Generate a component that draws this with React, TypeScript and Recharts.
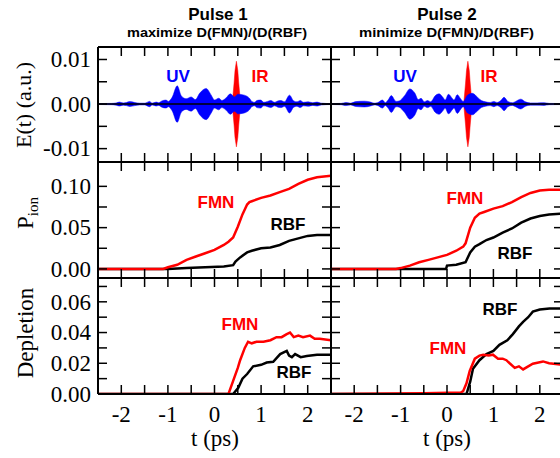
import React from "react";
import { ComposedChart, Line, Area, XAxis, YAxis, ReferenceLine } from "recharts";

const SERIF = '"Liberation Serif", "Times New Roman", serif';
const SANS = '"Liberation Sans", Arial, sans-serif';
const RED = "#ff0000";
const BLUE = "#0000ff";
const TICK = 9;

// axis ticks
const xTicks = [-2, -1.5, -1, -0.5, 0, 0.5, 1, 1.5, 2];
const fieldTicks = [-0.01, -0.005, 0, 0.005, 0.01];
const fieldLabels = [-0.01, 0, 0.01];
const pionTicks = [0, 0.025, 0.05, 0.075, 0.1];
const pionLabels = [0, 0.05, 0.1];
const deplTicks = [0, 0.01, 0.02, 0.03, 0.04, 0.05, 0.06, 0.07];
const deplLabels = [0, 0.02, 0.04, 0.06];

// Pulse 1: UV envelope and IR spike
const uvTime1 = [-2.5, -2.21, -2.11, -2.04, -1.96, -1.89, -1.82, -1.71, -1.61, -1.5, -1.39, -1.34, -1.25, -1.2, -1.13, -1.04, -0.99, -0.91, -0.8, -0.71, -0.61, -0.5, -0.41, -0.32, -0.18, -0.07, 0.0, 0.09, 0.16, 0.25, 0.34, 0.43, 0.5, 0.64, 0.75, 0.8, 0.86, 0.91, 0.99, 1.06, 1.14, 1.21, 1.29, 1.36, 1.43, 1.5, 1.61, 1.7, 1.77, 1.84, 1.91, 2.01, 2.11, 2.2, 2.29, 2.5];
const uvAmp1 = [1e-4, 1.5e-4, 2.5e-4, 4.5e-4, 2.5e-4, 3.5e-4, 5.5e-4, 3.5e-4, 2e-4, 2e-4, 6e-4, 2e-4, 4.5e-4, 3e-4, 7e-4, 9e-4, 6e-4, 1.5e-3, 4.1e-3, 1.8e-3, 1.2e-3, 1.6e-3, 1.0e-3, 2.4e-3, 3.5e-3, 2.0e-3, 9e-4, 1.3e-3, 8e-4, 1.4e-3, 2.3e-3, 1.6e-3, 2.2e-3, 2.0e-3, 1.3e-3, 6e-4, 4e-4, 8e-4, 9e-4, 4e-4, 6e-4, 8e-4, 4e-4, 7e-4, 8e-4, 5e-4, 2.0e-3, 7e-4, 5e-4, 8e-4, 4e-4, 5e-4, 3e-4, 4.5e-4, 2e-4, 1e-4];
const irTime1 = [0.38, 0.42, 0.44, 0.47, 0.5, 0.52, 0.56];
const irAmp1 = [0, 0.0047, 0.0075, 0.0096, 0.0075, 0.0047, 0];

// Pulse 2: UV envelope and IR spike
const uvTime2 = [-2.5, -2.28, -2.18, -2.08, -1.96, -1.78, -1.65, -1.57, -1.5, -1.39, -1.33, -1.27, -1.2, -1.1, -1.03, -0.92, -0.8, -0.69, -0.62, -0.56, -0.49, -0.42, -0.35, -0.26, -0.17, -0.08, -0.04, 0.03, 0.12, 0.15, 0.22, 0.3, 0.35, 0.44, 0.55, 0.65, 0.74, 0.83, 0.93, 1.01, 1.08, 1.16, 1.23, 1.31, 1.41, 1.48, 1.59, 1.69, 1.8, 1.94, 2.09, 2.2, 2.5];
const uvAmp2 = [1e-4, 1.5e-4, 3.5e-4, 2e-4, 5.5e-4, 6.5e-4, 4.5e-4, 2e-4, 3e-4, 9e-4, 3e-4, 9e-4, 1.9e-3, 6e-4, 7e-4, 1.8e-3, 3.4e-3, 2.4e-3, 1.0e-3, 1.3e-3, 5e-4, 8e-4, 5e-4, 1.8e-3, 2.3e-3, 1.4e-3, 9e-4, 2.2e-3, 1.2e-3, 9e-4, 2.1e-3, 1.1e-3, 6e-4, 2.0e-3, 2.4e-3, 1.6e-3, 8e-4, 5e-4, 3.5e-4, 6e-4, 3.5e-4, 8e-4, 1.5e-3, 6e-4, 3e-4, 6e-4, 1.1e-3, 5e-4, 2.5e-4, 2.5e-4, 3e-4, 1.5e-4, 1e-4];
const irTime2 = [0.36, 0.4, 0.42, 0.45, 0.48, 0.5, 0.54];
const irAmp2 = [0, 0.0047, 0.0075, 0.0096, 0.0075, 0.0047, 0];

// ionization probability
const pionFmnTime1 = [-2.5, -1.1, -1.0, -0.8, -0.6, -0.4, -0.2, 0, 0.2, 0.3, 0.4, 0.5, 0.6, 0.7, 0.75, 0.8, 1.0, 1.2, 1.4, 1.6, 1.8, 2.0, 2.2, 2.5];
const pionFmn1 = [0, 0, 0.002, 0.005, 0.011, 0.015, 0.019, 0.023, 0.029, 0.033, 0.038, 0.051, 0.066, 0.078, 0.081, 0.082, 0.086, 0.089, 0.093, 0.097, 0.103, 0.108, 0.111, 0.113];
const pionRbfTime1 = [-2.5, -1.0, -0.6, -0.2, 0.2, 0.4, 0.45, 0.55, 0.7, 0.8, 1.0, 1.2, 1.4, 1.6, 1.8, 2.0, 2.2, 2.5];
const pionRbf1 = [0, 0, 0.001, 0.002, 0.003, 0.0045, 0.009, 0.014, 0.02, 0.022, 0.025, 0.026, 0.029, 0.034, 0.037, 0.04, 0.041, 0.041];
const pionFmnTime2 = [-2.5, -1.1, -1.0, -0.8, -0.6, -0.4, -0.2, 0, 0.2, 0.35, 0.4, 0.5, 0.6, 0.7, 0.8, 1.0, 1.2, 1.4, 1.6, 1.8, 2.0, 2.2, 2.5];
const pionFmn2 = [0, 0, 0.001, 0.004, 0.008, 0.011, 0.014, 0.017, 0.022, 0.027, 0.031, 0.05, 0.062, 0.067, 0.069, 0.073, 0.076, 0.081, 0.087, 0.092, 0.095, 0.096, 0.096];
const pionRbfTime2 = [-2.5, -0.02, 0, 0.2, 0.4, 0.5, 0.6, 0.7, 0.85, 1.0, 1.2, 1.4, 1.6, 1.8, 2.0, 2.2, 2.5];
const pionRbf2 = [0, 0, 0.004, 0.005, 0.008, 0.02, 0.027, 0.03, 0.035, 0.038, 0.044, 0.049, 0.056, 0.061, 0.064, 0.066, 0.067];

// depletion
const deplFmnTime1 = [-2.5, 0.3, 0.4, 0.5, 0.55, 0.65, 0.72, 0.8, 0.9, 1.05, 1.2, 1.33, 1.44, 1.55, 1.62, 1.7, 1.8, 1.9, 2.05, 2.15, 2.26, 2.5];
const deplFmn1 = [0, 0, 0.0085, 0.017, 0.022, 0.03, 0.034, 0.033, 0.034, 0.034, 0.035, 0.037, 0.037, 0.039, 0.04, 0.037, 0.038, 0.037, 0.038, 0.036, 0.036, 0.035];
const deplRbfTime1 = [-2.5, 0.4, 0.51, 0.6, 0.7, 0.83, 1.0, 1.12, 1.26, 1.35, 1.41, 1.55, 1.6, 1.66, 1.73, 1.85, 1.98, 2.2, 2.5];
const deplRbf1 = [0, 0, 0.004, 0.01, 0.013, 0.018, 0.019, 0.0205, 0.021, 0.024, 0.026, 0.028, 0.025, 0.024, 0.026, 0.024, 0.0247, 0.0255, 0.0255];
const deplFmnTime2 = [-2.5, -0.5, 0.3, 0.35, 0.42, 0.49, 0.6, 0.7, 0.78, 0.9, 0.99, 1.1, 1.2, 1.28, 1.35, 1.46, 1.55, 1.64, 1.75, 1.85, 2.07, 2.2, 2.5];
const deplFmn2 = [0, 0.0005, 0.001, 0.002, 0.007, 0.015, 0.023, 0.025, 0.0256, 0.025, 0.0256, 0.023, 0.023, 0.022, 0.02, 0.017, 0.018, 0.016, 0.018, 0.0197, 0.0212, 0.02, 0.019];
const deplRbfTime2 = [-2.5, 0.42, 0.5, 0.56, 0.7, 0.85, 1.0, 1.13, 1.3, 1.42, 1.55, 1.64, 1.75, 1.85, 2.0, 2.21, 2.5];
const deplRbf2 = [0, 0, 0.008, 0.0164, 0.022, 0.026, 0.028, 0.032, 0.035, 0.039, 0.044, 0.047, 0.05, 0.0536, 0.055, 0.0557, 0.0557];

const band = (ts: number[], amps: number[]) => ts.map((t, i) => ({ t, band: [-amps[i], amps[i]] }));
const pts = (ts: number[], vs: number[]) => ts.map((t, i) => ({ t, v: vs[i] }));

// layout of the 2 x 3 grid of plot areas
const COL_X = [98, 331];
const COL_W = [233, 232];
const ROW_Y = [47, 162, 278];
const ROW_H = [115, 116, 116];

const fmtY = (v: number) => (v < 0 ? "-" : "") + Math.abs(v).toFixed(2);

const BottomTick = (p: any) => {
  const { x, y, payload, labels } = p;
  const v = payload.value;
  return (
    <g>
      <line x1={x} x2={x} y1={y} y2={y - TICK} stroke="#000" strokeWidth={1.5} />
      {labels && Number.isInteger(v) ? (
        <text x={x} y={y + 28} textAnchor="middle" fontFamily={SERIF} fontSize={23} fill="#000">
          {v < 0 ? `-${-v}` : `${v}`}
        </text>
      ) : null}
    </g>
  );
};

const TopTick = (p: any) => (
  <line x1={p.x} x2={p.x} y1={p.y} y2={p.y + TICK} stroke="#000" strokeWidth={1.5} />
);

const LeftTick = (p: any) => {
  const { x, y, payload, labels } = p;
  const v = payload.value;
  const show = labels && labels.some((l: number) => Math.abs(l - v) < 1e-9);
  return (
    <g>
      <line x1={x} x2={x + TICK} y1={y} y2={y} stroke="#000" strokeWidth={1.5} />
      {show ? (
        <text x={x - 7} y={y} dy="0.34em" textAnchor="end" fontFamily={SERIF} fontSize={23} fill="#000">
          {fmtY(v)}
        </text>
      ) : null}
    </g>
  );
};

const RightTick = (p: any) => (
  <line x1={p.x} x2={p.x - TICK} y1={p.y} y2={p.y} stroke="#000" strokeWidth={1.5} />
);

const axisLine = { stroke: "#000", strokeWidth: 2 };

function Panel({ col, row, yDomain, yTicks, yLabels, children }: any) {
  const yw = col === 0 ? 98 : 12;
  const rw = 12;
  const topH = 12;
  const bottomH = row === 2 ? 64 : 12;
  const w = yw + COL_W[col] + rw;
  const h = topH + ROW_H[row] + bottomH;
  return (
    <div style={{ position: "absolute", left: COL_X[col] - yw, top: ROW_Y[row] - topH }}>
      <ComposedChart width={w} height={h} margin={{ top: 0, right: 0, bottom: 0, left: 0 }}>
        <XAxis xAxisId="b" dataKey="t" type="number" domain={[-2.5, 2.5]} allowDataOverflow ticks={xTicks} interval={0}
          height={bottomH} tickSize={0} tickMargin={0} tickLine={false} axisLine={axisLine}
          tick={<BottomTick labels={row === 2} />} />
        <XAxis xAxisId="t" orientation="top" dataKey="t" type="number" domain={[-2.5, 2.5]} allowDataOverflow ticks={xTicks} interval={0}
          height={topH} tickSize={0} tickMargin={0} tickLine={false} axisLine={axisLine} tick={<TopTick />} />
        <YAxis yAxisId="l" type="number" domain={yDomain} allowDataOverflow ticks={yTicks} interval={0}
          width={yw} tickSize={0} tickMargin={0} tickLine={false} axisLine={axisLine}
          tick={<LeftTick labels={col === 0 ? yLabels : null} />} />
        <YAxis yAxisId="r" orientation="right" type="number" domain={yDomain} allowDataOverflow ticks={yTicks} interval={0}
          width={rw} tickSize={0} tickMargin={0} tickLine={false} axisLine={axisLine} tick={<RightTick />} />
        {children}
      </ComposedChart>
    </div>
  );
}

function FieldPanel({ col, uv, ir }: any) {
  return (
    <Panel col={col} row={0} yDomain={[-0.013, 0.0128]} yTicks={fieldTicks} yLabels={fieldLabels}>
      <ReferenceLine xAxisId="b" yAxisId="l" y={0} stroke="#000" strokeWidth={1.5} />
      <Area xAxisId="b" yAxisId="l" data={ir} dataKey="band" type="linear" fill={RED} fillOpacity={1} stroke={RED} strokeWidth={0.5} isAnimationActive={false} />
      <Area xAxisId="b" yAxisId="l" data={uv} dataKey="band" type="monotone" fill={BLUE} fillOpacity={1} stroke={BLUE} strokeWidth={0.5} isAnimationActive={false} />
    </Panel>
  );
}

function CurvePanel({ col, row, yDomain, yTicks, yLabels, fmn, rbf }: any) {
  return (
    <Panel col={col} row={row} yDomain={yDomain} yTicks={yTicks} yLabels={yLabels}>
      <Line xAxisId="b" yAxisId="l" data={rbf} dataKey="v" type="linear" stroke="#000" strokeWidth={2.5} dot={false} isAnimationActive={false} />
      <Line xAxisId="b" yAxisId="l" data={fmn} dataKey="v" type="linear" stroke={RED} strokeWidth={2.5} dot={false} isAnimationActive={false} />
    </Panel>
  );
}

const Note = ({ x, y, color, children, size = 17 }: any) => (
  <text x={x} y={y} textAnchor="middle" fontFamily={SANS} fontWeight="bold" fontSize={size} fill={color}>
    {children}
  </text>
);

export default function App() {
  const pionDomain = [-0.011, 0.1295];
  const deplDomain = [0, 0.0755];
  return (
    <div style={{ position: "absolute", left: 0, top: 0, width: 560, height: 458, overflow: "hidden", background: "#fff" }}>
      <FieldPanel col={0} uv={band(uvTime1, uvAmp1)} ir={band(irTime1, irAmp1)} />
      <FieldPanel col={1} uv={band(uvTime2, uvAmp2)} ir={band(irTime2, irAmp2)} />
      <CurvePanel col={0} row={1} yDomain={pionDomain} yTicks={pionTicks} yLabels={pionLabels}
        fmn={pts(pionFmnTime1, pionFmn1)} rbf={pts(pionRbfTime1, pionRbf1)} />
      <CurvePanel col={1} row={1} yDomain={pionDomain} yTicks={pionTicks} yLabels={pionLabels}
        fmn={pts(pionFmnTime2, pionFmn2)} rbf={pts(pionRbfTime2, pionRbf2)} />
      <CurvePanel col={0} row={2} yDomain={deplDomain} yTicks={deplTicks} yLabels={deplLabels}
        fmn={pts(deplFmnTime1, deplFmn1)} rbf={pts(deplRbfTime1, deplRbf1)} />
      <CurvePanel col={1} row={2} yDomain={deplDomain} yTicks={deplTicks} yLabels={deplLabels}
        fmn={pts(deplFmnTime2, deplFmn2)} rbf={pts(deplRbfTime2, deplRbf2)} />

      <svg width={560} height={458} style={{ position: "absolute", left: 0, top: 0, pointerEvents: "none" }}>
        <Note x={218} y={20}>Pulse 1</Note>
        <text x={127} y={37} fontFamily={SANS} fontWeight="bold" fontSize={12.5} textLength={180} lengthAdjust="spacingAndGlyphs">maximize D(FMN)/(D(RBF)</text>
        <Note x={447} y={20}>Pulse 2</Note>
        <text x={359} y={37} fontFamily={SANS} fontWeight="bold" fontSize={12.5} textLength={175} lengthAdjust="spacingAndGlyphs">minimize D(FMN)/D(RBF)</text>

        <Note x={178} y={82} color={BLUE}>UV</Note>
        <Note x={260} y={82} color={RED}>IR</Note>
        <Note x={405} y={82} color={BLUE}>UV</Note>
        <Note x={489} y={82} color={RED}>IR</Note>

        <Note x={216} y={208} color={RED}>FMN</Note>
        <Note x={288} y={230} color="#000">RBF</Note>
        <Note x={465} y={204} color={RED}>FMN</Note>
        <Note x={515} y={259} color="#000">RBF</Note>

        <Note x={240} y={330} color={RED}>FMN</Note>
        <Note x={294} y={378} color="#000">RBF</Note>
        <Note x={500} y={315} color="#000">RBF</Note>
        <Note x={448} y={354} color={RED}>FMN</Note>

        <text transform="translate(31,105) rotate(-90)" textAnchor="middle" fontFamily={SERIF} fontSize={22}>E(t) (a.u.)</text>
        <text transform="translate(33,213) rotate(-90)" textAnchor="middle" fontFamily={SERIF} fontSize={23}>
          P<tspan dy={5} fontSize={15}>ion</tspan>
        </text>
        <text transform="translate(33,333) rotate(-90)" textAnchor="middle" fontFamily={SERIF} fontSize={23}>Depletion</text>

        <text x={215} y={446} textAnchor="middle" fontFamily={SERIF} fontSize={23}>t (ps)</text>
        <text x={447} y={446} textAnchor="middle" fontFamily={SERIF} fontSize={23}>t (ps)</text>
      </svg>
    </div>
  );
}
